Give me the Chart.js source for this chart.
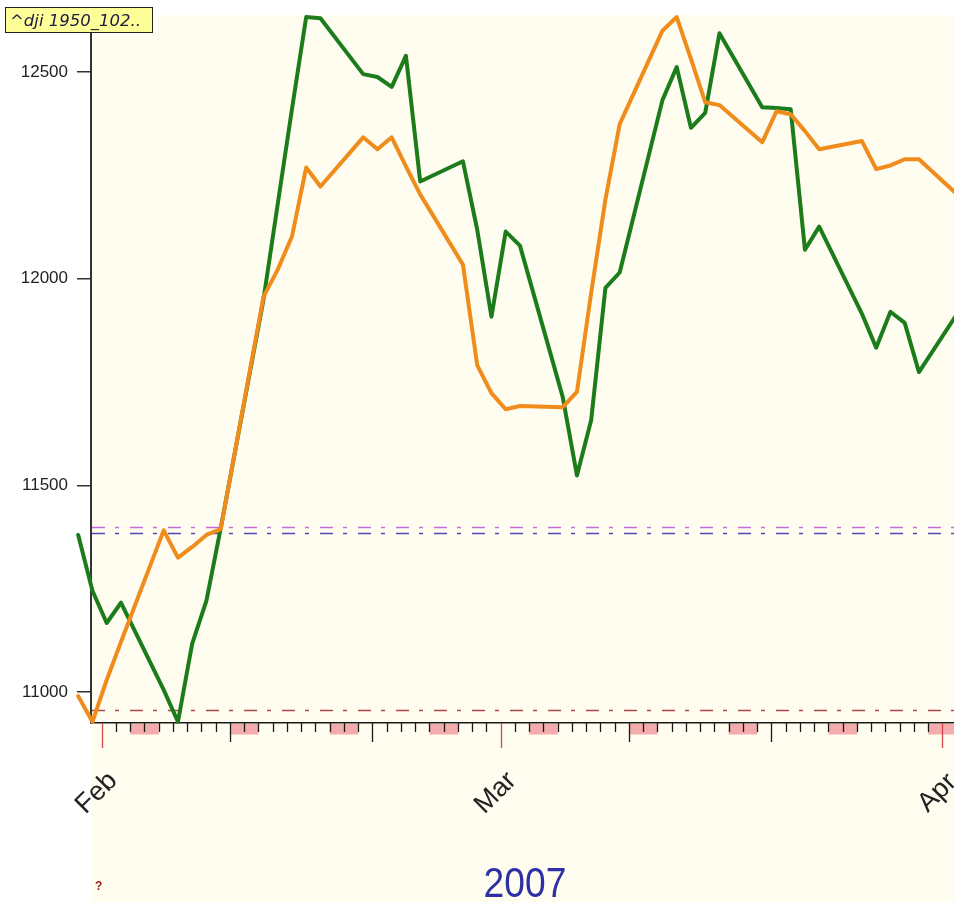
<!DOCTYPE html>
<html>
<head>
<meta charset="utf-8">
<script src="https://cdn.jsdelivr.net/npm/chart.js@4.4.0/dist/chart.umd.min.js"></script>
<style>
html,body{margin:0;padding:0;background:#fff;}
#wrap{width:954px;height:902px;position:relative;}
</style>
</head>
<body>
<div id="wrap"><canvas id="c"></canvas></div>
<script>
// ---------- data ----------
const tradingDates = [
  '2007-01-30','2007-01-31','2007-02-01','2007-02-02','2007-02-05','2007-02-06','2007-02-07','2007-02-08','2007-02-09',
  '2007-02-12','2007-02-13','2007-02-14','2007-02-15','2007-02-16','2007-02-19','2007-02-20','2007-02-21','2007-02-22','2007-02-23',
  '2007-02-26','2007-02-27','2007-02-28','2007-03-01','2007-03-02','2007-03-05','2007-03-06','2007-03-07','2007-03-08','2007-03-09',
  '2007-03-12','2007-03-13','2007-03-14','2007-03-15','2007-03-16','2007-03-19','2007-03-20','2007-03-21','2007-03-22','2007-03-23',
  '2007-03-26','2007-03-27','2007-03-28','2007-03-29','2007-03-30','2007-04-02'
];
const djiClose = [
  11380,11245,11167,11216,11005,10928,11117,11221,11396,
  11949,12180,12410,12633,12630,12495,12488,12464,12539,12235,
  12284,12119,11908,12114,12080,11714,11524,11658,11978,12015,
  12432,12512,12365,12401,12594,12415,12413,12410,12070,12126,
  11915,11833,11920,11893,11774,11932
];
const djiAverage = [
  10990,10928,11029,11121,11391,11325,11351,11380,11394,
  11956,12022,12102,12269,12223,12342,12313,12342,12272,12204,
  12034,11791,11723,11684,11692,11689,11726,11966,12192,12374,
  12600,12633,12532,12427,12420,12330,12405,12398,12357,12313,
  12333,12265,12274,12289,12289,12194
];
const levelValues = [11399, 11385, 10956];
const yTickValues = [11000, 11500, 12000, 12500];
const monthStarts = ['2007-02-01','2007-03-01','2007-04-01'];
const monthLabels = ['Feb','Mar','Apr'];
const seriesTitle = '^dji 1950_102..';
const yearLabel = '2007';

// ---------- helpers ----------
const BASE = Date.UTC(2007,1,1);
const DAY = 86400000;
function dayIndex(s){ const p = s.split('-').map(Number); return (Date.UTC(p[0],p[1]-1,p[2]) - BASE)/DAY; }
function dateOf(d){ return new Date(BASE + d*DAY); }
const POINT_OFFSET = 0.35;

const levelColors = ['#c36fd6', '#5646b4', '#a84a4a'];

const decor = {
  id: 'decor',
  beforeDraw(chart){
    const {ctx, chartArea:a, width, height} = chart;
    ctx.save();
    ctx.fillStyle = '#ffffff';
    ctx.fillRect(0,0,width,height);
    ctx.fillStyle = '#fffdf0';
    ctx.fillRect(a.left, a.top, width - a.left, height - a.top);
    ctx.restore();
  },
  beforeDatasetsDraw(chart){
    const {ctx, chartArea:a, scales:{y}} = chart;
    ctx.save();
    levelValues.forEach((v,i)=>{
      const py = Math.round(y.getPixelForValue(v)) + 0.5;
      ctx.strokeStyle = levelColors[i];
      ctx.lineWidth = 1.4;
      ctx.setLineDash([13,10,4,11]);
      ctx.beginPath(); ctx.moveTo(a.left+1, py); ctx.lineTo(a.right, py); ctx.stroke();
    });
    ctx.restore();
  },
  afterDraw(chart){
    const {ctx, chartArea:a, scales:{x}, width} = chart;
    const bottom = a.bottom;
    ctx.save();
    // weekend blocks
    ctx.fillStyle = '#f4abab';
    for (let d = -2; d <= 62; d++){
      if (dateOf(d).getUTCDay() === 6){
        let x0 = x.getPixelForValue(d), x1 = x.getPixelForValue(d+2);
        x0 = Math.max(x0, a.left+1); x1 = Math.min(x1, width);
        if (x1 > x0) ctx.fillRect(x0, bottom+1, x1-x0, 10.5);
      }
    }
    // day ticks
    for (let d = 0; d <= 62; d++){
      const px = Math.round(x.getPixelForValue(d)) + 0.5;
      if (px < a.left || px > width) continue;
      const dm = dateOf(d).getUTCDate();
      let len = 9, col = '#1a1a1a';
      if (dm === 1){ len = 25; col = '#d04848'; }
      else if (dm === 10 || dm === 20){ len = 19; }
      ctx.strokeStyle = col; ctx.lineWidth = 1.3;
      ctx.beginPath(); ctx.moveTo(px, bottom); ctx.lineTo(px, bottom+len); ctx.stroke();
    }
    // month labels
    ctx.fillStyle = '#222222';
    ctx.font = '27px "Liberation Sans", Arial, sans-serif';
    ctx.textAlign = 'center'; ctx.textBaseline = 'middle';
    monthStarts.forEach((m,i)=>{
      const px = x.getPixelForValue(dayIndex(m));
      ctx.save();
      ctx.translate(px - 5, bottom + 70);
      ctx.rotate(-Math.PI/4);
      ctx.fillText(monthLabels[i], 0, 0);
      ctx.restore();
    });
    // year label
    ctx.fillStyle = '#2f2fa6';
    ctx.font = '40px "Liberation Sans", Arial, sans-serif';
    ctx.textAlign = 'center'; ctx.textBaseline = 'alphabetic';
    ctx.save();
    ctx.translate(525, 897);
    ctx.scale(0.93, 1.08);
    ctx.fillText(yearLabel, 0, 0);
    ctx.restore();
    // question mark
    ctx.fillStyle = '#a02020';
    ctx.font = 'bold 12px "Liberation Sans", Arial, sans-serif';
    ctx.textAlign = 'left';
    ctx.fillText('?', 95, 890);
    // title box
    ctx.fillStyle = '#ffff99';
    ctx.fillRect(5.5, 7.5, 147, 25);
    ctx.strokeStyle = '#222'; ctx.lineWidth = 1;
    ctx.strokeRect(5.5, 7.5, 147, 25);
    ctx.fillStyle = '#202040';
    ctx.font = 'italic 16.5px "DejaVu Sans", sans-serif';
    ctx.textAlign = 'left';
    ctx.fillText(seriesTitle, 10, 26);
    ctx.restore();
  }
};

const toPoints = vals => tradingDates.map((d,i)=>({x: dayIndex(d) + POINT_OFFSET, y: vals[i]}));

new Chart(document.getElementById('c'), {
  type: 'line',
  data: {
    datasets: [
      { label: 'average', data: toPoints(djiAverage), borderColor: '#ef8c1c', borderWidth: 4,
        pointRadius: 0, tension: 0, clip: false, borderJoinStyle: 'round', borderCapStyle: 'round' },
      { label: 'close', data: toPoints(djiClose), borderColor: '#1c7c1c', borderWidth: 4,
        pointRadius: 0, tension: 0, clip: false, borderJoinStyle: 'round', borderCapStyle: 'round' }
    ]
  },
  options: {
    responsive: true, maintainAspectRatio: false, animation: false, devicePixelRatio: 1,
    layout: { padding: { top: 15, left: 0, right: 0, bottom: 0 } },
    plugins: { legend: { display: false }, tooltip: { enabled: false }, title: { display: false } },
    scales: {
      x: {
        type: 'linear', min: -0.751, max: 59.81,
        ticks: { display: false },
        grid: { display: false },
        border: { display: true, color: '#1a1a1a', width: 1.5 },
        afterFit: s => { s.height = 179; s.paddingLeft = 0; s.paddingRight = 0; }
      },
      y: {
        type: 'linear', min: 10925, max: 12638,
        afterBuildTicks: s => { s.ticks = yTickValues.map(v => ({value: v})); },
        ticks: { font: { family: '"Liberation Sans", Arial, sans-serif', size: 17 }, color: '#222', padding: 9,
                 callback: v => String(v) },
        grid: { drawOnChartArea: false, drawTicks: true, tickLength: 14, color: '#333', lineWidth: 1.5 },
        border: { display: true, color: '#333', width: 2 },
        afterFit: s => { s.width = 91; s.paddingTop = 0; s.paddingBottom = 0; }
      }
    }
  },
  plugins: [decor]
});
</script>
</body>
</html>
